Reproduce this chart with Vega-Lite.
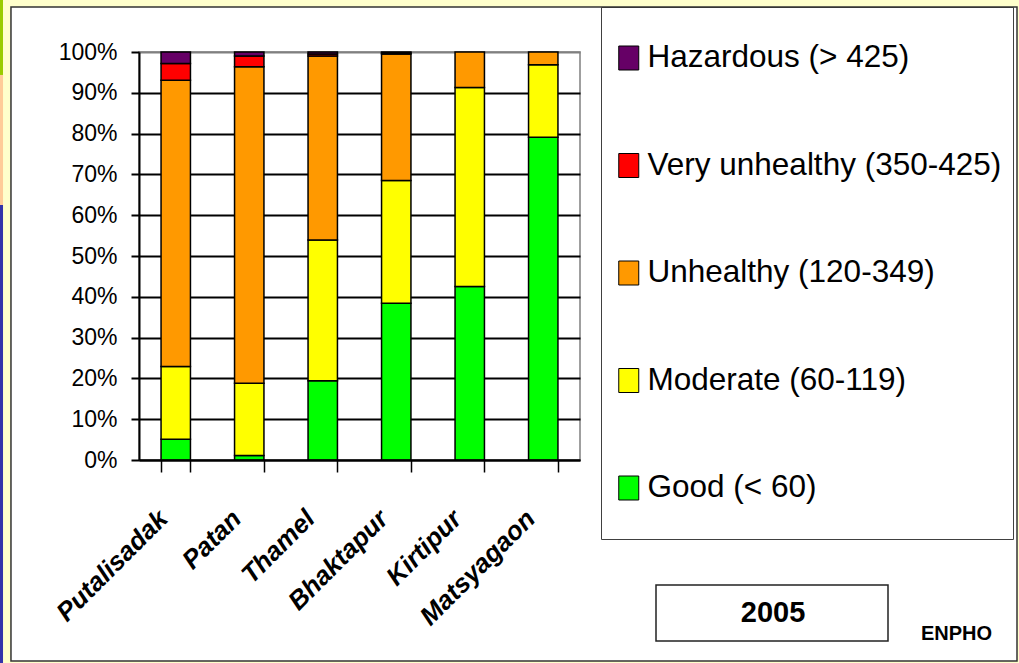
{
  "$schema": "https://vega.github.io/schema/vega-lite/v6.json",
  "width": 441,
  "height": 408,
  "autosize": {"type": "none"},
  "padding": {"left": 139, "top": 52, "right": 439, "bottom": 203},
  "background": "white",
  "config": {"view": {"fill": "#C0C0C0", "stroke": "#808080", "strokeWidth": 1.5}},
  "resolve": {"scale": {"shape": "independent"}, "legend": {"shape": "independent"}},
  "layer": [
    {
      "data": {
        "values": [
          {"site": "Putalisadak", "category": "Good (< 60)", "level": 1, "pct": 5.1},
          {"site": "Putalisadak", "category": "Moderate (60-119)", "level": 2, "pct": 17.8},
          {"site": "Putalisadak", "category": "Unhealthy (120-349)", "level": 3, "pct": 70.2},
          {"site": "Putalisadak", "category": "Very unhealthy (350-425)", "level": 4, "pct": 4.1},
          {"site": "Putalisadak", "category": "Hazardous (> 425)", "level": 5, "pct": 2.8},
          {"site": "Patan", "category": "Good (< 60)", "level": 1, "pct": 1.1},
          {"site": "Patan", "category": "Moderate (60-119)", "level": 2, "pct": 17.7},
          {"site": "Patan", "category": "Unhealthy (120-349)", "level": 3, "pct": 77.6},
          {"site": "Patan", "category": "Very unhealthy (350-425)", "level": 4, "pct": 2.6},
          {"site": "Patan", "category": "Hazardous (> 425)", "level": 5, "pct": 1.0},
          {"site": "Thamel", "category": "Good (< 60)", "level": 1, "pct": 19.4},
          {"site": "Thamel", "category": "Moderate (60-119)", "level": 2, "pct": 34.5},
          {"site": "Thamel", "category": "Unhealthy (120-349)", "level": 3, "pct": 45.1},
          {"site": "Thamel", "category": "Very unhealthy (350-425)", "level": 4, "pct": 0.5},
          {"site": "Thamel", "category": "Hazardous (> 425)", "level": 5, "pct": 0.5},
          {"site": "Bhaktapur", "category": "Good (< 60)", "level": 1, "pct": 38.4},
          {"site": "Bhaktapur", "category": "Moderate (60-119)", "level": 2, "pct": 30.1},
          {"site": "Bhaktapur", "category": "Unhealthy (120-349)", "level": 3, "pct": 31.0},
          {"site": "Bhaktapur", "category": "Very unhealthy (350-425)", "level": 4, "pct": 0.25},
          {"site": "Bhaktapur", "category": "Hazardous (> 425)", "level": 5, "pct": 0.25},
          {"site": "Kirtipur", "category": "Good (< 60)", "level": 1, "pct": 42.5},
          {"site": "Kirtipur", "category": "Moderate (60-119)", "level": 2, "pct": 48.8},
          {"site": "Kirtipur", "category": "Unhealthy (120-349)", "level": 3, "pct": 8.7},
          {"site": "Matsyagaon", "category": "Good (< 60)", "level": 1, "pct": 79.1},
          {"site": "Matsyagaon", "category": "Moderate (60-119)", "level": 2, "pct": 17.8},
          {"site": "Matsyagaon", "category": "Unhealthy (120-349)", "level": 3, "pct": 3.1}
        ]
      },
      "mark": {"type": "bar", "stroke": "black", "strokeWidth": 1.5},
      "encoding": {
        "x": {
          "field": "site",
          "type": "nominal",
          "sort": ["Putalisadak", "Patan", "Thamel", "Bhaktapur", "Kirtipur", "Matsyagaon"],
          "scale": {"paddingInner": 0.6, "paddingOuter": 0.3},
          "axis": {
            "title": null,
            "labelAngle": -45,
            "labelAlign": "right",
            "labelBaseline": "alphabetic",
            "labelFont": "Liberation Sans",
            "labelFontWeight": "bold",
            "labelFontStyle": "italic",
            "labelFontSize": 26,
            "labelColor": "black",
            "labelOffset": -7,
            "labelPadding": 48,
            "labelOverlap": false,
            "tickBand": "extent",
            "tickSize": 12,
            "tickColor": "black",
            "tickWidth": 1.5,
            "domainColor": "black",
            "domainWidth": 2,
            "zindex": 1
          }
        },
        "y": {
          "field": "pct",
          "type": "quantitative",
          "stack": "normalize",
          "scale": {"domain": [0, 1], "nice": false},
          "axis": {
            "title": null,
            "values": [0, 0.1, 0.2, 0.3, 0.4, 0.5, 0.6, 0.7, 0.8, 0.9, 1],
            "format": ".0%",
            "grid": true,
            "gridColor": {"condition": {"test": "datum.value >= 1", "value": "#808080"}, "value": "black"},
            "gridWidth": 2,
            "domainColor": "black",
            "domainWidth": 2,
            "tickColor": "black",
            "tickSize": 8,
            "tickWidth": 2,
            "labelFont": "Liberation Sans",
            "labelFontSize": 23,
            "labelColor": "black",
            "labelPadding": 14
          }
        },
        "fill": {
          "field": "category",
          "type": "nominal",
          "scale": {
            "domain": ["Hazardous (> 425)", "Very unhealthy (350-425)", "Unhealthy (120-349)", "Moderate (60-119)", "Good (< 60)"],
            "range": ["#660066", "#FF0000", "#FF9900", "#FFFF00", "#00FF00"]
          },
          "legend": {
            "title": null,
            "orient": "none",
            "legendX": 462,
            "legendY": -45,
            "padding": 11,
            "strokeColor": "#404040",
            "fillColor": "white",
            "symbolType": "M-0.8333,-1L0.8333,-1L0.8333,1L-0.8333,1Z",
            "symbolSize": 576,
            "symbolOffset": 1,
            "symbolStrokeColor": "black",
            "symbolStrokeWidth": 1,
            "symbolOpacity": 1,
            "clipHeight": 80,
            "rowPadding": 27.5,
            "labelFont": "Liberation Sans",
            "labelFontSize": 31.5,
            "labelColor": "black",
            "labelOffset": 3,
            "labelLimit": 500
          }
        },
        "order": {"field": "level", "type": "quantitative"}
      }
    },
    {
      "data": {"values": [{"year": "2005"}]},
      "mark": {"type": "point", "opacity": 0},
      "encoding": {
        "shape": {
          "field": "year",
          "type": "nominal",
          "scale": {"range": ["M-1,-0.2414L1,-0.2414L1,0.2414L-1,0.2414Z"]},
          "legend": {
            "title": "ENPHO",
            "titleOrient": "right",
            "titleAnchor": "end",
            "titleBaseline": "bottom",
            "titlePadding": 30,
            "titleFont": "Liberation Sans",
            "titleFontSize": 20,
            "titleFontWeight": "bold",
            "titleColor": "black",
            "orient": "none",
            "legendX": 516,
            "legendY": 444,
            "padding": 0,
            "symbolSize": 53824,
            "symbolFillColor": "white",
            "symbolStrokeColor": "#222222",
            "symbolStrokeWidth": 1.5,
            "symbolOpacity": 1,
            "labelOffset": -116,
            "labelAlign": "center",
            "labelFont": "Liberation Sans",
            "labelFontWeight": "bold",
            "labelFontSize": 29,
            "labelColor": "black",
            "zindex": 1
          }
        }
      }
    },
    {
      "data": {"values": [{"frame": "slide"}]},
      "mark": {"type": "point", "filled": true, "fill": "#FFFFCC", "opacity": 0},
      "encoding": {
        "shape": {
          "field": "frame",
          "type": "nominal",
          "scale": {"range": ["M-1.001,-0.652L1.001,-0.652L1.001,0.652L-1.001,0.652Z M-0.9775,-0.6363L-0.9775,0.6461L0.9951,0.6461L0.9951,-0.6363Z"]},
          "legend": {
            "title": null,
            "orient": "none",
            "legendX": -140.5,
            "legendY": -231.5,
            "padding": 0,
            "symbolSize": 1040400,
            "symbolFillColor": "#FFFFCC",
            "symbolStrokeWidth": 1.5,
            "symbolOpacity": 1,
            "labelExpr": "''",
            "zindex": 2
          }
        }
      }
    },
    {
      "data": {"values": [{"border": "box"}]},
      "mark": {"type": "point", "opacity": 0},
      "encoding": {
        "shape": {
          "field": "border",
          "type": "nominal",
          "scale": {"range": ["M-0.9775,-0.6363L0.9951,-0.6363L0.9951,0.6461L-0.9775,0.6461Z"]},
          "legend": {
            "title": null,
            "orient": "none",
            "legendX": -140.5,
            "legendY": -231.5,
            "padding": 0,
            "symbolSize": 1040400,
            "symbolStrokeColor": "#333333",
            "symbolStrokeWidth": 1.5,
            "symbolOpacity": 1,
            "labelExpr": "''",
            "zindex": 4
          }
        }
      }
    },
    {
      "data": {"values": [{"strip": "blue"}]},
      "mark": {"type": "point", "filled": true, "fill": "#3333AA", "opacity": 0},
      "encoding": {
        "shape": {
          "field": "strip",
          "type": "nominal",
          "scale": {"range": ["M-1.002,-0.248L-0.9931,-0.248L-0.9931,0.652L-1.002,0.652Z"]},
          "legend": {
            "title": null,
            "orient": "none",
            "legendX": -140.5,
            "legendY": -231.5,
            "padding": 0,
            "symbolSize": 1040400,
            "symbolFillColor": "#3333AA",
            "symbolStrokeWidth": 1.5,
            "symbolOpacity": 1,
            "labelExpr": "''",
            "zindex": 3
          }
        }
      }
    },
    {
      "data": {"values": [{"strip": "green"}]},
      "mark": {"type": "point", "filled": true, "fill": "#99CC00", "opacity": 0},
      "encoding": {
        "shape": {
          "field": "strip",
          "type": "nominal",
          "scale": {"range": ["M-1.002,-0.652L-0.9931,-0.652L-0.9931,-0.503L-1.002,-0.503Z"]},
          "legend": {
            "title": null,
            "orient": "none",
            "legendX": -140.5,
            "legendY": -231.5,
            "padding": 0,
            "symbolSize": 1040400,
            "symbolFillColor": "#99CC00",
            "symbolStrokeWidth": 1.5,
            "symbolOpacity": 1,
            "labelExpr": "''",
            "zindex": 3
          }
        }
      }
    },
    {
      "data": {"values": [{"strip": "orange"}]},
      "mark": {"type": "point", "filled": true, "fill": "#FFCC99", "opacity": 0},
      "encoding": {
        "shape": {
          "field": "strip",
          "type": "nominal",
          "scale": {"range": ["M-1.002,-0.503L-0.9931,-0.503L-0.9931,-0.248L-1.002,-0.248Z"]},
          "legend": {
            "title": null,
            "orient": "none",
            "legendX": -140.5,
            "legendY": -231.5,
            "padding": 0,
            "symbolSize": 1040400,
            "symbolFillColor": "#FFCC99",
            "symbolStrokeWidth": 1.5,
            "symbolOpacity": 1,
            "labelExpr": "''",
            "zindex": 3
          }
        }
      }
    }
  ]
}
